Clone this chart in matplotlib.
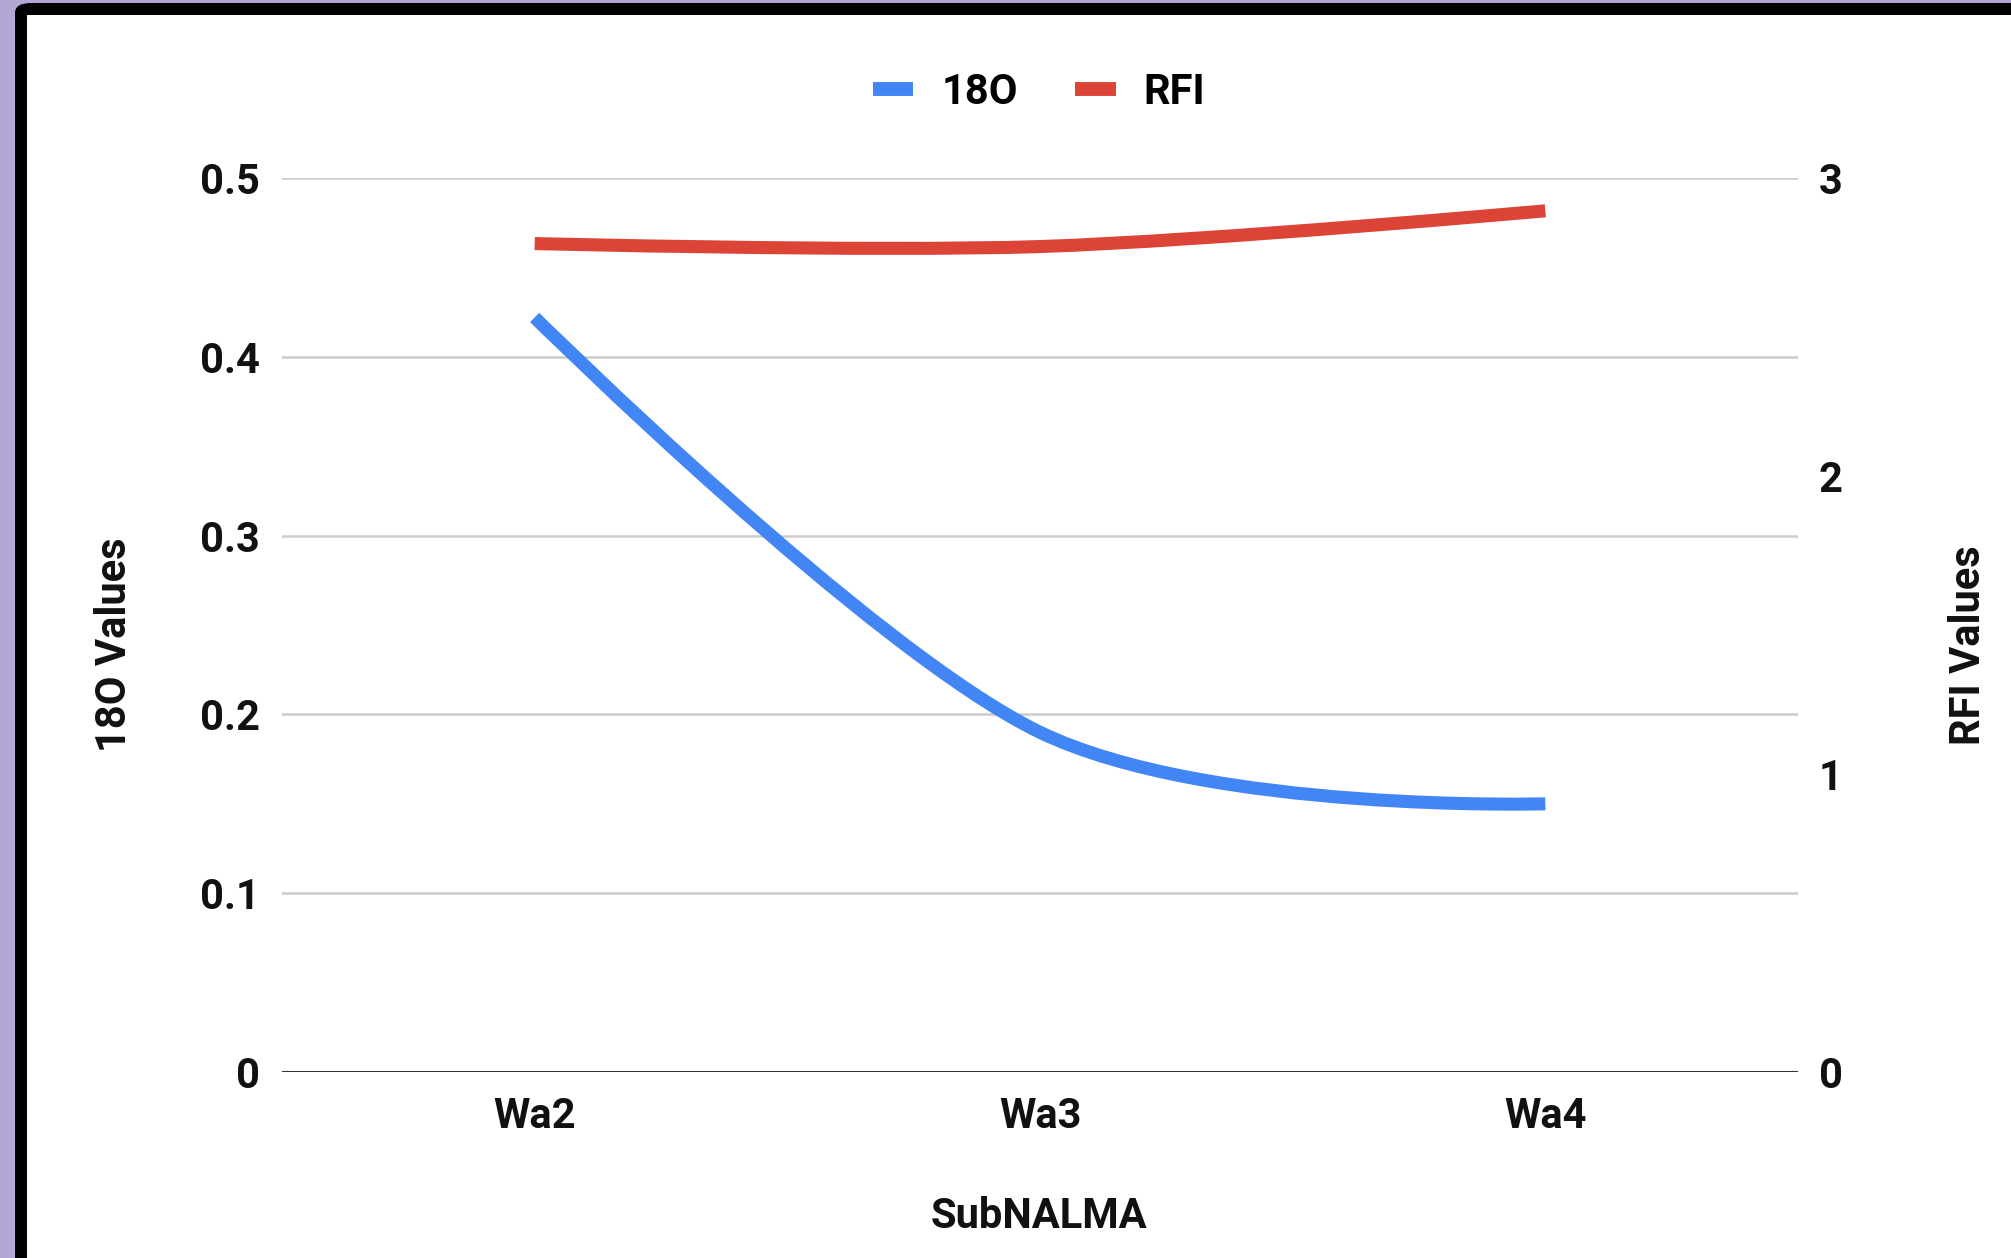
import matplotlib.pyplot as plt
from matplotlib.path import Path
from matplotlib.patches import PathPatch, FancyBboxPatch, Rectangle
from matplotlib.lines import Line2D

# Data
samples = ['Wa2', 'Wa3', 'Wa4']
o18 = [0.422, 0.19, 0.15]
rfi = [2.78, 2.77, 2.89]

BLUE = '#4285F4'
RED = '#DB4437'
FONT = 'Roboto'
FS = 30

plt.rcParams['font.family'] = [FONT, 'DejaVu Sans']


def smooth_path(xs, ys):
    # cubic bezier through the points; end control points sit on the end points
    n = len(xs)
    tang = [None] * n
    for i in range(1, n - 1):
        tang[i] = (ys[i + 1] - ys[i - 1]) / (xs[i + 1] - xs[i - 1])
    verts = [(xs[0], ys[0])]
    codes = [Path.MOVETO]
    for i in range(n - 1):
        dx = (xs[i + 1] - xs[i]) / 3
        if tang[i] is None:
            c1 = (xs[i], ys[i])
        else:
            c1 = (xs[i] + dx, ys[i] + tang[i] * dx)
        if tang[i + 1] is None:
            c2 = (xs[i + 1], ys[i + 1])
        else:
            c2 = (xs[i + 1] - dx, ys[i + 1] - tang[i + 1] * dx)
        verts += [c1, c2, (xs[i + 1], ys[i + 1])]
        codes += [Path.CURVE4] * 3
    return Path(verts, codes)


fig = plt.figure(figsize=(20.11, 12.58), dpi=100)
fig.patch.set_facecolor('#B4A7D6')

# screenshot frame
W, H = 2011, 1258
fig.patches.append(FancyBboxPatch((15 / W, -0.1), 1.2, (1258 - 3) / H + 0.1,
                                  boxstyle='round,pad=0,rounding_size=0.008',
                                  transform=fig.transFigure, facecolor='black',
                                  edgecolor='none', zorder=-3))
fig.patches.append(Rectangle((27 / W, -0.1), 1.2, (1258 - 15) / H + 0.1,
                             transform=fig.transFigure, facecolor='white',
                             edgecolor='none', zorder=-2))

ax = fig.add_axes([282 / W, 1 - 1072 / H, (1798 - 282) / W, (1072 - 178) / H])
ax.set_facecolor('none')
ax2 = ax.twinx()
ax2.set_facecolor('none')

x = list(range(len(samples)))
ax.add_patch(PathPatch(smooth_path(x, o18), fill=False, edgecolor=BLUE,
                       linewidth=9.4, capstyle='butt', zorder=3))
ax2.add_patch(PathPatch(smooth_path(x, rfi), fill=False, edgecolor=RED,
                        linewidth=9.4, capstyle='butt', zorder=3))

ax.set_xlim(-0.5, len(samples) - 0.5)
ax.set_ylim(0, 0.5)
ax2.set_ylim(0, 3)
ax.set_yticks([0, 0.1, 0.2, 0.3, 0.4, 0.5])
ax.set_yticklabels(['0', '0.1', '0.2', '0.3', '0.4', '0.5'])
ax2.set_yticks([0, 1, 2, 3])
ax2.set_yticklabels(['0', '1', '2', '3'])
ax.set_xticks(x)
ax.set_xticklabels(samples)

# Gridlines
for v in [0.1, 0.2, 0.3, 0.4, 0.5]:
    ax.axhline(v, color='#CCCCCC', linewidth=1.8, zorder=1)
ax.axhline(0, color='#333333', linewidth=2.2, zorder=2)

for a in (ax, ax2):
    for s in a.spines.values():
        s.set_visible(False)
    a.tick_params(length=0, labelsize=FS, colors='#111111')
    for lab in a.get_xticklabels() + a.get_yticklabels():
        lab.set_fontweight('bold')
ax.tick_params(axis='y', pad=16)
ax2.tick_params(axis='y', pad=15)
ax.tick_params(axis='x', pad=17)

fig.text(115 / W, 1 - 645 / H, '18O Values', rotation=90, ha='center', va='center',
         fontsize=FS, fontweight='bold', color='#111111')
fig.text(1969 / W, 1 - 645 / H, 'RFI Values', rotation=90, ha='center', va='center',
         fontsize=FS, fontweight='bold', color='#111111')
fig.text(1039 / W, 1 - 1216 / H, 'SubNALMA', ha='center', va='center',
         fontsize=FS, fontweight='bold', color='#111111')

handles = [Line2D([], [], color=BLUE, linewidth=10, solid_capstyle='butt'),
           Line2D([], [], color=RED, linewidth=10, solid_capstyle='butt')]
fig.legend(handles, ['18O', 'RFI'], loc='center', bbox_to_anchor=(1039 / W, 1 - 92 / H),
           ncol=2, frameon=False, handlelength=0.98, handletextpad=0.67, columnspacing=1.37,
           prop={'family': FONT, 'weight': 'bold', 'size': FS})

fig.savefig('out.png', dpi=100)
